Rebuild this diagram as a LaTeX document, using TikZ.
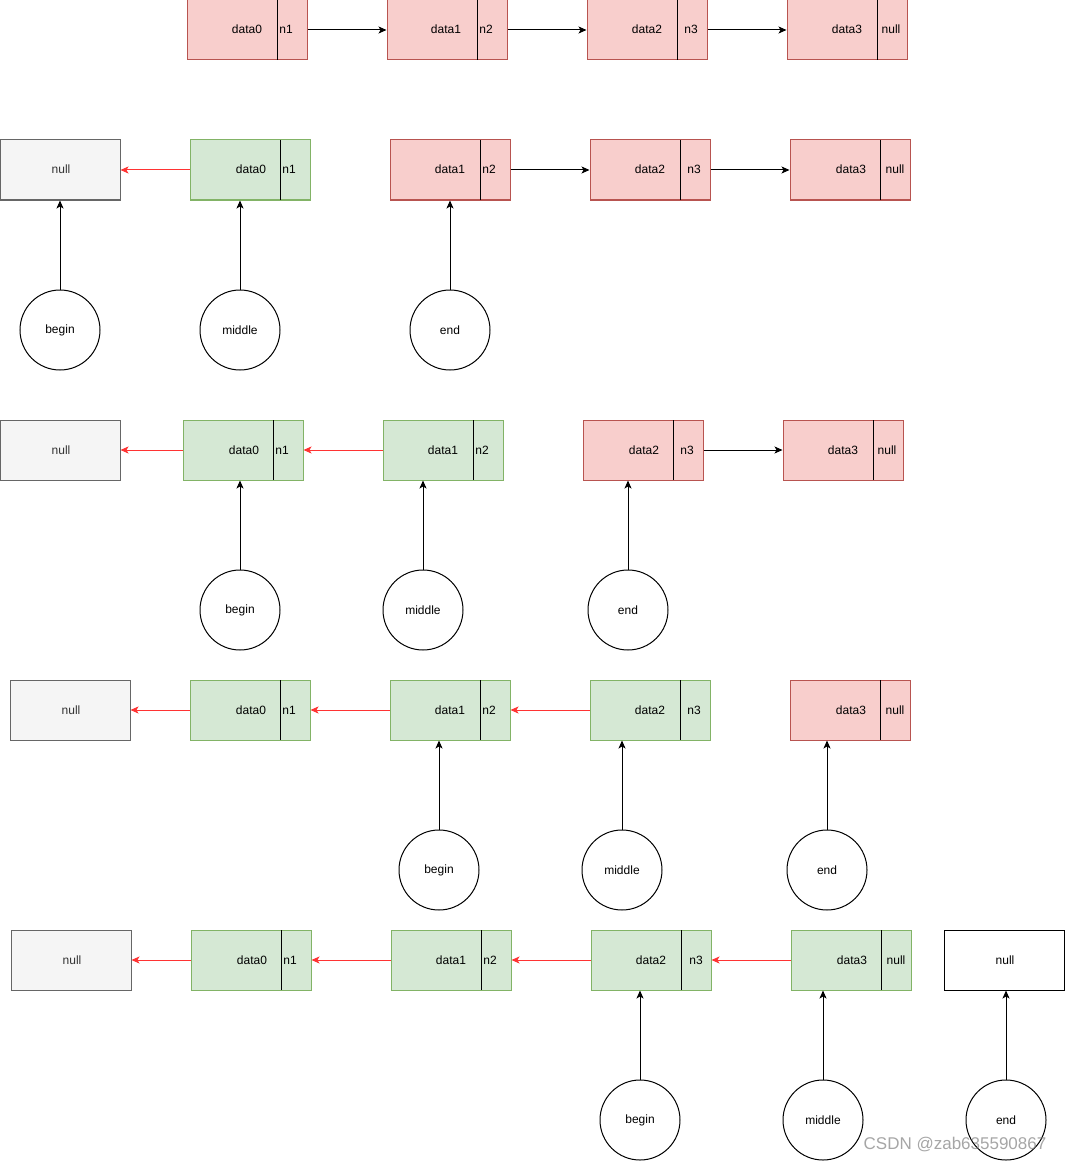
\documentclass[tikz,border=0pt]{standalone}
\usepackage{fontspec}
\setmainfont{Liberation Sans}
\usetikzlibrary{arrows.meta,calc}
\definecolor{redfill}{HTML}{F8CECC}
\definecolor{redline}{HTML}{B85450}
\definecolor{greenfill}{HTML}{D5E8D4}
\definecolor{greenline}{HTML}{82B366}
\definecolor{grayfill}{HTML}{F5F5F5}
\definecolor{grayline}{HTML}{666666}
\definecolor{graytext}{HTML}{333333}
\definecolor{redarrow}{HTML}{FF3333}
\tikzset{
  box/.style={rectangle, minimum width=120pt, minimum height=60pt, inner sep=0pt, line width=1pt},
  redbox/.style={box, draw=redline, fill=redfill},
  greenbox/.style={box, draw=greenline, fill=greenfill},
  graybox/.style={box, draw=grayline, fill=grayfill},
  whitebox/.style={box, draw=black, fill=white},
  lbl/.style={font=\fontsize{12}{14}\selectfont, inner sep=0pt, anchor=base},
  ptr/.style={circle, draw=black, line width=1pt, minimum size=80pt, inner sep=0pt, font=\fontsize{12}{14}\selectfont},
  blk/.style={draw=black, line width=1pt, -{Stealth[length=8pt,width=7pt,inset=2pt]}},
  rd/.style={draw=redarrow, line width=1pt, -{Stealth[length=8pt,width=7pt,inset=2pt]}}
}
% #1 name, #2 left x, #3 top y, #4 style, #5 data text, #6 data x, #7 ptr text, #8 ptr x
\newcommand\lnode[8]{%
  \node[#4] (#1) at ({#2+60},{#3+30}) {};
  \draw[black, line width=1pt] ({#2+90},#3) -- ({#2+90},{#3+60});
  \node[lbl] (#1d) at (#6,{#3+34}) {#5};
  \node[lbl] (#1p) at (#8,{#3+34}) {#7};
}
\newcommand\nullbox[5]{% name, left x, top y, style, text x
  \node[#4] (#1) at ({#2+60},{#3+30}) {};
  \node[lbl, text=graytext] (#1t) at (#5,{#3+34}) {null};
}
\begin{document}
\begin{tikzpicture}[x=1pt,y=-1pt]
\useasboundingbox (0,0) rectangle (1065,1161);
% Row 1
\lnode{a0}{187}{0}{redbox}{data0}{247}{n1}{286}
\lnode{a1}{387}{0}{redbox}{data1}{446}{n2}{486}
\lnode{a2}{587}{0}{redbox}{data2}{647}{n3}{691}
\lnode{a3}{787}{0}{redbox}{data3}{847}{null}{891}
\draw[blk] (a0.east) -- (a1.west);
\draw[blk] (a1.east) -- (a2.west);
\draw[blk] (a2.east) -- (a3.west);
% Row 2
\nullbox{bn}{0}{140}{graybox}{61}
\lnode{b0}{190}{140}{greenbox}{data0}{251}{n1}{289}
\lnode{b1}{390}{140}{redbox}{data1}{450}{n2}{489}
\lnode{b2}{590}{140}{redbox}{data2}{650}{n3}{694}
\lnode{b3}{790}{140}{redbox}{data3}{851}{null}{895}
\draw[rd] (b0.west) -- (bn.east);
\draw[blk] (b1.east) -- (b2.west);
\draw[blk] (b2.east) -- (b3.west);
\node[ptr] (bb) at (60,330) {begin};
\node[ptr] (bm) at (240,330) {middle};
\node[ptr] (be) at (450,330) {end};
\draw[blk] (bb.north) -- (bb.north |- bn.south);
\draw[blk] (bm.north) -- (bm.north |- b0.south);
\draw[blk] (be.north) -- (be.north |- b1.south);
% Row 3
\nullbox{cn}{0}{420}{graybox}{61}
\lnode{c0}{183}{420}{greenbox}{data0}{244}{n1}{282}
\lnode{c1}{383}{420}{greenbox}{data1}{443}{n2}{482}
\lnode{c2}{583}{420}{redbox}{data2}{644}{n3}{687}
\lnode{c3}{783}{420}{redbox}{data3}{843}{null}{887}
\draw[rd] (c0.west) -- (cn.east);
\draw[rd] (c1.west) -- (c0.east);
\draw[blk] (c2.east) -- (c3.west);
\node[ptr] (cb) at (240,610) {begin};
\node[ptr] (cm) at (423,610) {middle};
\node[ptr] (ce) at (628,610) {end};
\draw[blk] (cb.north) -- (cb.north |- c0.south);
\draw[blk] (cm.north) -- (cm.north |- c1.south);
\draw[blk] (ce.north) -- (ce.north |- c2.south);
% Row 4
\nullbox{dn}{10}{680}{graybox}{71}
\lnode{d0}{190}{680}{greenbox}{data0}{251}{n1}{289}
\lnode{d1}{390}{680}{greenbox}{data1}{450}{n2}{489}
\lnode{d2}{590}{680}{greenbox}{data2}{650}{n3}{694}
\lnode{d3}{790}{680}{redbox}{data3}{851}{null}{895}
\draw[rd] (d0.west) -- (dn.east);
\draw[rd] (d1.west) -- (d0.east);
\draw[rd] (d2.west) -- (d1.east);
\node[ptr] (db) at (439,870) {begin};
\node[ptr] (dm) at (622,870) {middle};
\node[ptr] (de) at (827,870) {end};
\draw[blk] (db.north) -- (db.north |- d1.south);
\draw[blk] (dm.north) -- (dm.north |- d2.south);
\draw[blk] (de.north) -- (de.north |- d3.south);
% Row 5
\nullbox{en}{11}{930}{graybox}{72}
\lnode{e0}{191}{930}{greenbox}{data0}{252}{n1}{290}
\lnode{e1}{391}{930}{greenbox}{data1}{451}{n2}{490}
\lnode{e2}{591}{930}{greenbox}{data2}{651}{n3}{696}
\lnode{e3}{791}{930}{greenbox}{data3}{852}{null}{896}
\node[whitebox] (ew) at (1004,960) {};
\node[lbl] (ewt) at (1005,964) {null};
\draw[rd] (e0.west) -- (en.east);
\draw[rd] (e1.west) -- (e0.east);
\draw[rd] (e2.west) -- (e1.east);
\draw[rd] (e3.west) -- (e2.east);
\node[ptr] (eb) at (640,1120) {begin};
\node[ptr] (em) at (823,1120) {middle};
\node[ptr] (ee) at (1006,1120) {end};
\draw[blk] (eb.north) -- (eb.north |- e2.south);
\draw[blk] (em.north) -- (em.north |- e3.south);
\draw[blk] (ee.north) -- (ee.north |- ew.south);
% watermark
\node[text=gray, opacity=0.7, font=\fontsize{17}{20}\selectfont, inner sep=0pt] (wm) at (955,1145) {CSDN @zab635590867};
\end{tikzpicture}
\end{document}
